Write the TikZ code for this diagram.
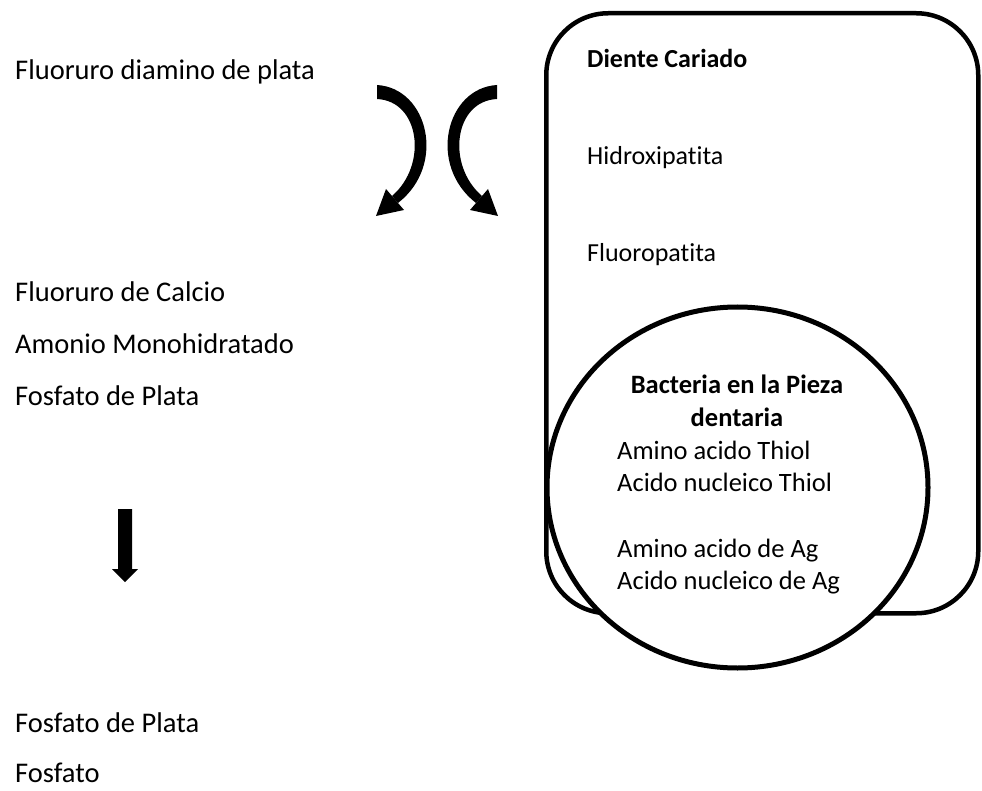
\documentclass[tikz,border=0pt]{standalone}
\usepackage{fontspec}
\setmainfont{Carlito}[Ligatures=NoCommon]
\usetikzlibrary{arrows.meta}
\begin{document}
\begin{tikzpicture}[x=1pt,y=-1pt,
  lefttxt/.style={anchor=base west,inner sep=0pt,font=\fontsize{28.5}{34}\selectfont},
  boxtxt/.style={anchor=base west,inner sep=0pt,font=\fontsize{26}{32}\selectfont},
  circtxt/.style={anchor=base west,inner sep=0pt,font=\fontsize{26.5}{33}\selectfont},
  circtitle/.style={anchor=base,inner sep=0pt,font=\fontsize{26.5}{33}\selectfont\bfseries},
  outline/.style={draw=black,line width=4.5pt}]
\useasboundingbox (0,0) rectangle (982,791);
\fill[white] (0,0) rectangle (982,791);

% left column texts
\node[lefttxt] (fdp) at (15,80) {Fluoruro diamino de plata};
\node[lefttxt] (fc) at (15,302) {Fluoruro de Calcio};
\node[lefttxt] (am) at (15,353) {Amonio Monohidratado};
\node[lefttxt] (fp1) at (15,405) {Fosfato de Plata};
\node[lefttxt] (fp2) at (15,732) {Fosfato de Plata};
\node[lefttxt] (f) at (15,782) {Fosfato};

% down arrow
\fill[black] (118,509) -- (132,509) -- (132,569) -- (138,569) -- (125,582)
  -- (112,569) -- (118,569) -- cycle;

% curved arrows
\newcommand{\crescentarrow}{%
  \fill[black] (377,85) .. controls (428,88) and (447,165) .. (398,203)
    -- (392,196) .. controls (428,165) and (420,101) .. (377,99) -- cycle;
  \fill[black] (376,216) -- (386,189) -- (404,210) -- cycle;}
\crescentarrow
\begin{scope}[xshift=874pt,xscale=-1]
\crescentarrow
\end{scope}

% tooth box
\node[outline,rounded corners=62pt,minimum width=432pt,minimum height=600pt,
  inner sep=0pt,anchor=north west] (tooth) at (544,11) {};
\node[boxtxt,font=\fontsize{26}{32}\selectfont\bfseries] (dc) at (587,68) {Diente Cariado};
\node[boxtxt] (hx) at (587,165) {Hidroxipatita};
\node[boxtxt] (fl) at (587,262) {Fluoropatita};

% bacteria circle
\draw[outline,line width=5pt,fill=white] (737.5,487.5) ellipse [x radius=190.5,y radius=180.5];
\node[circtitle] (b1) at (737,393) {Bacteria en la Pieza};
\node[circtitle] (b2) at (737,426) {dentaria};
\node[circtxt] (c1) at (617,459) {Amino acido Thiol};
\node[circtxt] (c2) at (617,491) {Acido nucleico Thiol};
\node[circtxt] (c3) at (617,557) {Amino acido de Ag};
\node[circtxt] (c4) at (617,589) {Acido nucleico de Ag};
\end{tikzpicture}
\end{document}
